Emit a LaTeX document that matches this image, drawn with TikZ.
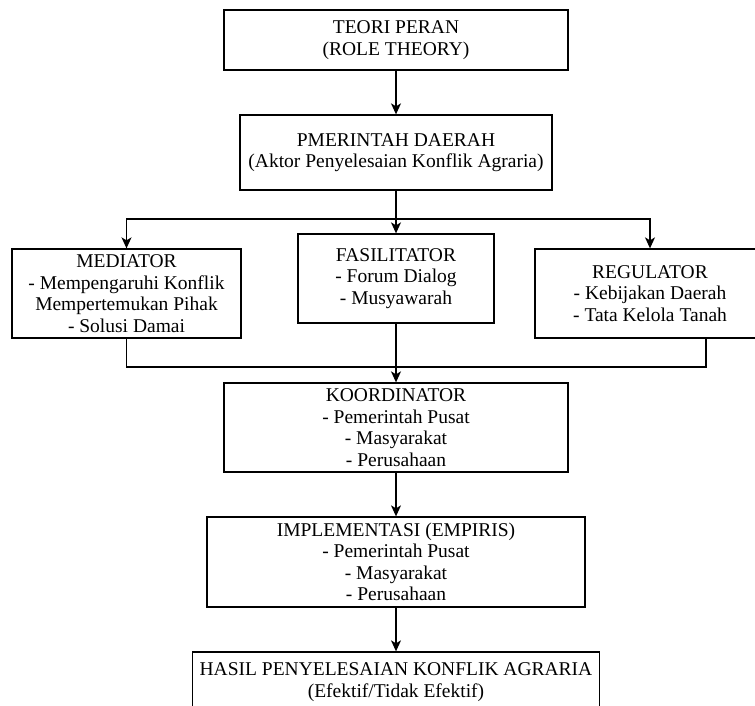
\documentclass[tikz,border=0pt]{standalone}
\usepackage{fontspec}
\setmainfont{Liberation Serif}
\usetikzlibrary{arrows.meta}

\begin{document}
\begin{tikzpicture}[x=1pt,y=-1pt,>={Stealth[length=11pt,width=10pt,inset=3pt]},
    line width=1.3pt,
    role box/.style={draw,rectangle,align=center,inner sep=0pt,
      font=\fontsize{19.5}{21.5}\selectfont}]
    \useasboundingbox (0,0) rectangle (755,706);
    \node[role box,minimum width=344pt,minimum height=60pt] (teori) at (396,40) {TEORI PERAN\\(ROLE THEORY)};
    \node[role box,minimum width=312pt,minimum height=75pt] (pemda) at (396,152.5) {PMERINTAH DAERAH\\(Aktor Penyelesaian Konflik Agraria)};
    \node[role box,minimum width=229pt,minimum height=89pt] (mediator) at (126.5,293.5) {MEDIATOR\\- Mempengaruhi Konflik\\Mempertemukan Pihak\\- Solusi Damai};
    \node[role box,minimum width=196pt,minimum height=89pt] (fasilitator) at (396,278.5) {FASILITATOR\\- Forum Dialog\\- Musyawarah};
    \node[role box,minimum width=230pt,minimum height=89pt] (regulator) at (650,293.5) {REGULATOR\\- Kebijakan Daerah\\- Tata Kelola Tanah};
    \node[role box,minimum width=344pt,minimum height=89pt] (koordinator) at (396,427.5) {KOORDINATOR\\- Pemerintah Pusat\\- Masyarakat\\- Perusahaan};
    \node[role box,minimum width=378pt,minimum height=90pt] (implementasi) at (396,562) {IMPLEMENTASI (EMPIRIS)\\- Pemerintah Pusat\\- Masyarakat\\- Perusahaan};
    \node[role box,minimum width=407pt,minimum height=60pt] (hasil) at (396,682) {HASIL PENYELESAIAN KONFLIK AGRARIA\\(Efektif/Tidak Efektif)};
    \coordinate (split) at (396,219);
    \coordinate (merge) at (396,367);
    % arrows
    \draw[->] (teori) -- (pemda);
    \draw (pemda) -- (split);
    \draw[->] (split) -| (mediator);
    \draw[->] (split) -- (fasilitator);
    \draw[->] (split) -| (regulator);
    \draw (mediator) |- (merge);
    \draw ([xshift=56pt]regulator.south) |- (merge);
    \draw[->] (fasilitator) -- (koordinator);
    \draw[->] (koordinator) -- (implementasi);
    \draw[->] (implementasi) -- (hasil);
\end{tikzpicture}
\end{document}
